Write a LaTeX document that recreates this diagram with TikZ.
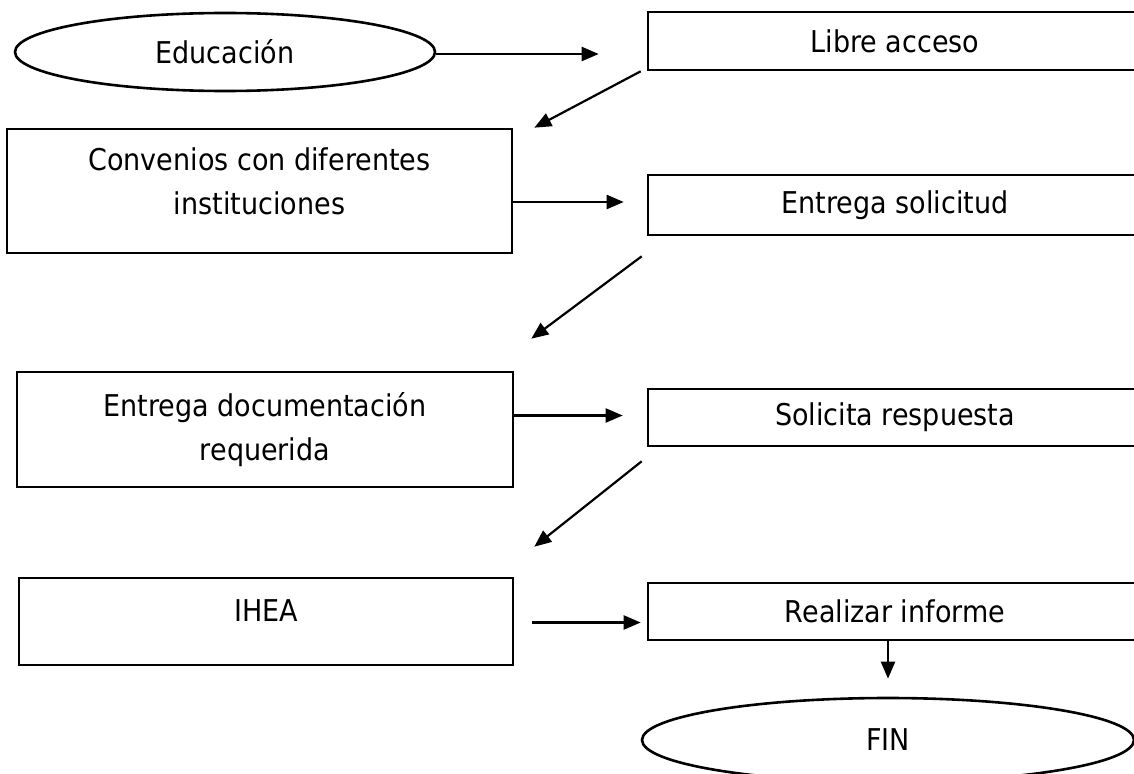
\documentclass[tikz,border=0pt]{standalone}
\usepackage{fontspec}
\setmainfont[FakeStretch=0.9]{DejaVu Sans}
\usetikzlibrary{arrows.meta,shapes.geometric}

\begin{document}
\begin{tikzpicture}[
  x=1pt, y=-1pt,
  font=\fontsize{30}{44}\selectfont,
  >={Triangle[length=17pt,width=14pt]},
  proc/.style={
    draw, line width=2.6pt, align=center, inner sep=0pt
  },
  term/.style={
    ellipse, draw, line width=2.6pt, inner sep=0pt
  },
  arr/.style={->, line width=2.2pt}
]
% Page frame (right column runs past the edge)
\useasboundingbox (0,0) rectangle (1134,773);
\clip (0,0) rectangle (1134,773);

% Start
\node[term, minimum width=420pt, minimum height=78pt] (edu) at (225,52) {Educación};
\node[proc, minimum width=494pt, minimum height=58pt] (libre) at (895,41) {Libre acceso};

% Row 2
\node[proc, minimum width=505pt, minimum height=124pt, text depth=19pt] (conv) at (259.5,191)
  {Convenios con diferentes\\instituciones};
\node[proc, minimum width=494pt, minimum height=60pt] (entsol) at (895,205) {Entrega solicitud};

% Row 3
\node[proc, minimum width=496pt, minimum height=115pt] (entdoc) at (265,429.5)
  {Entrega documentación\\requerida};
\node[proc, minimum width=494pt, minimum height=57pt] (solres) at (895,417.5) {Solicita respuesta};

% Row 4
\node[proc, minimum width=494pt, minimum height=87pt, text depth=22pt] (ihea) at (266,621.5) {IHEA};
\node[proc, minimum width=494pt, minimum height=57pt] (realiz) at (895,611.5) {Realizar informe};

% End
\node[term, minimum width=492pt, minimum height=84pt] (fin) at (888,740) {FIN};

% Connectors
\draw[arr, shorten >=48pt] ([yshift=-2pt]edu.east) -- ([yshift=-2pt]edu.east -| libre.west);
\draw[arr] ([xshift=-6pt]libre.south west) -- ([xshift=21pt]conv.north east);
\draw[arr, shorten >=23pt] ([yshift=-11pt]conv.east) -- ([yshift=-11pt]conv.east -| entsol.west);
\draw[arr] ([shift={(-5pt,-20pt)}]entsol.south west) -- ([shift={(17pt,32pt)}]entdoc.north east);
\draw[arr, shorten >=24pt] ([yshift=14pt]entdoc.east) -- ([yshift=14pt]entdoc.east -| solres.west);
\draw[arr] ([shift={(-5pt,-14pt)}]solres.south west) -- ([shift={(20pt,30pt)}]ihea.north east);
\draw[arr, shorten <=18pt, shorten >=6pt] ([yshift=-1pt]ihea.east) -- ([yshift=-1pt]ihea.east -| realiz.west);
\draw[arr, shorten >=18pt] (fin.north |- realiz.south) -- (fin.north);

\end{tikzpicture}
\end{document}
